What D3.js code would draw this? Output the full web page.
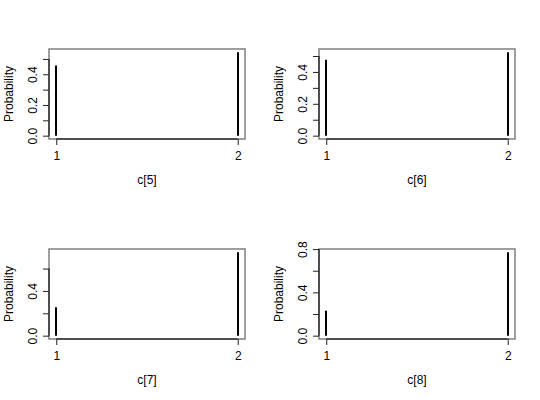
<!DOCTYPE html>
<html><head><meta charset="utf-8">
<script src="https://cdn.jsdelivr.net/npm/d3@7"></script>
<style>body{margin:0;background:#fff}svg{display:block}text{font-family:"Liberation Sans",Arial,Helvetica,sans-serif;font-size:12px;fill:#000}</style>
</head><body>
<script>
const categories = [1, 2];
const panelLabels = ["c[5]", "c[6]", "c[7]", "c[8]"];
const probC5 = [0.457, 0.543];
const probC6 = [0.477, 0.523];
const probC7 = [0.255, 0.745];
const probC8 = [0.230, 0.770];
const yTicks5 = [0, 0.1, 0.2, 0.3, 0.4, 0.5];
const yTicks6 = [0, 0.1, 0.2, 0.3, 0.4, 0.5];
const yTicks7 = [0, 0.2, 0.4, 0.6];
const yTicks8 = [0, 0.2, 0.4, 0.6, 0.8];
const yLabels5 = ["0.0", "", "0.2", "", "0.4", ""];
const yLabels6 = ["0.0", "", "0.2", "", "0.4", ""];
const yLabels7 = ["0.0", "", "0.4", ""];
const yLabels8 = ["0.0", "", "0.4", "", "0.8"];

const panels = [
  {label: panelLabels[0], vals: probC5, ticks: yTicks5, labels: yLabels5},
  {label: panelLabels[1], vals: probC6, ticks: yTicks6, labels: yLabels6},
  {label: panelLabels[2], vals: probC7, ticks: yTicks7, labels: yLabels7},
  {label: panelLabels[3], vals: probC8, ticks: yTicks8, labels: yLabels8}
];

const W = 540, H = 400, PW = 270, PH = 200;
const L = 49, R = 245, T = 49, B = 139;
const svg = d3.select("body").append("svg").attr("width", W).attr("height", H);

panels.forEach((p, i) => {
  const g = svg.append("g").attr("transform", `translate(${(i % 2) * PW},${Math.floor(i / 2) * PH})`);
  const ymax = d3.max(p.vals);
  const x = d3.scaleLinear().domain([0.96, 2.04]).range([L, R]);
  const y = d3.scaleLinear().domain([-0.04 * ymax, 1.04 * ymax]).range([B, T]);

  // box
  g.append("rect").attr("x", L).attr("y", T).attr("width", R - L).attr("height", B - T)
    .attr("fill", "none").attr("stroke", "#808080").attr("stroke-width", 1.5);

  // bars (type="h")
  g.selectAll("line.bar").data(categories).enter().append("line").attr("class", "bar")
    .attr("x1", d => Math.round(x(d))).attr("x2", d => Math.round(x(d)))
    .attr("y1", y(0)).attr("y2", (d, j) => y(p.vals[j]))
    .attr("stroke", "#000").attr("stroke-width", 2);

  // x axis
  const xa = g.append("g").attr("transform", `translate(0,${B})`)
    .call(d3.axisBottom(x).tickValues(categories).tickFormat(d3.format("d")).tickSize(6).tickSizeOuter(0));
  xa.select(".domain").remove();
  xa.selectAll(".tick line").attr("stroke", "#222");
  xa.selectAll(".tick text").attr("y", 20.5).attr("dy", 0).style("font-size", "12px");
  g.append("line").attr("x1", x(categories[0])).attr("x2", x(categories[categories.length - 1]))
    .attr("y1", B).attr("y2", B).attr("stroke", "#333").attr("stroke-width", 1.5);

  // y axis
  const ya = g.append("g").attr("transform", `translate(${L},0)`)
    .call(d3.axisLeft(y).tickValues(p.ticks).tickFormat((d, j) => p.labels[j]).tickSize(6).tickSizeOuter(0));
  ya.select(".domain").remove();
  ya.selectAll(".tick line").attr("stroke", "#222");
  ya.selectAll(".tick text").attr("x", null).attr("dy", null)
    .attr("transform", "translate(-12,0) rotate(-90)").attr("text-anchor", "middle")
    .style("font-size", "12px");
  g.append("line").attr("x1", L).attr("x2", L)
    .attr("y1", y(p.ticks[0])).attr("y2", y(p.ticks[p.ticks.length - 1])).attr("stroke", "#333").attr("stroke-width", 1.5);

  // labels
  g.append("text").attr("x", (L + R) / 2).attr("y", 184).attr("text-anchor", "middle").text(p.label);
  g.append("text").attr("transform", `translate(13,${(T + B) / 2}) rotate(-90)`)
    .attr("text-anchor", "middle").text("Probability");
});
</script>
</body></html>
